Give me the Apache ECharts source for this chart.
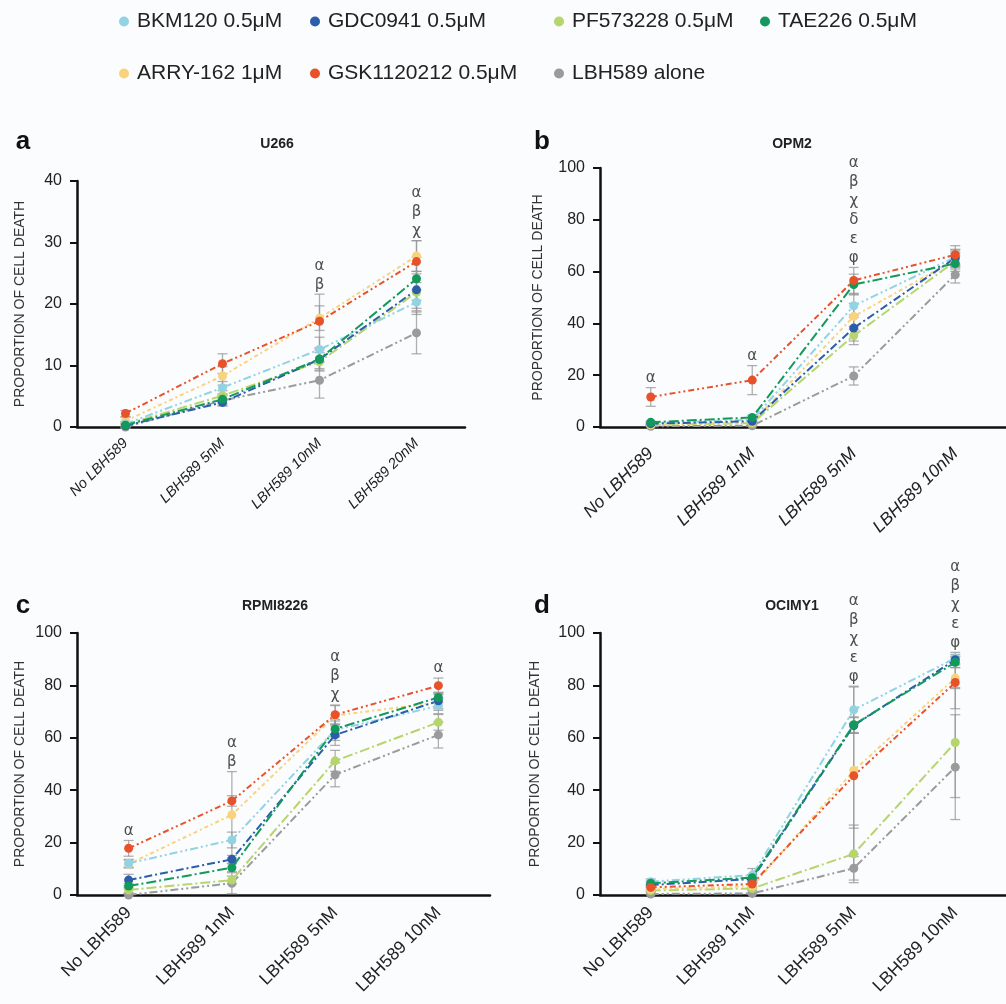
<!DOCTYPE html>
<html>
<head>
<meta charset="utf-8">
<script src="https://cdn.jsdelivr.net/npm/echarts@6/dist/echarts.min.js"></script>
<style>
html,body{margin:0;padding:0;background:#fbfcfe;}
#chart{width:1006px;height:1004px;}
</style>
</head>
<body>
<div id="chart"></div>
<script>
// ---------- DATA ----------
const TREATMENTS = ['BKM120 0.5μM','GDC0941 0.5μM','PF573228 0.5μM','TAE226 0.5μM','ARRY-162 1μM','GSK1120212 0.5μM','LBH589 alone'];
const COLORS = ['#92d3e3','#2b5dab','#b6d56c','#12995b','#f8d37c','#e8522b','#9b9b9b'];

const CATS_U266 = ['No LBH589','LBH589 5nM','LBH589 10nM','LBH589 20nM'];
const CATS_DOSE = ['No LBH589','LBH589 1nM','LBH589 5nM','LBH589 10nM'];

// values per treatment (order of TREATMENTS)
const U266_VALUES = [
  [0.5, 6.4, 12.6, 20.3],
  [0.2, 4.0, 11.0, 22.3],
  [0.4, 5.1, 10.6, 21.9],
  [0.3, 4.5, 11.05, 24.1],
  [1.0, 8.3, 17.7, 27.8],
  [2.2, 10.3, 17.2, 26.9],
  [0.0, 4.3, 7.6, 15.3]
];
const U266_ERRORS = [
  [0.4, 1.0, 2.0, 2.0],
  [0.3, 0.6, 1.5, 3.0],
  [0.4, 0.8, 1.5, 3.0],
  [0.3, 0.7, 1.8, 3.5],
  [0.6, 1.5, 2.0, 2.5],
  [0.5, 1.6, 4.4, 3.4],
  [0.2, 0.8, 2.9, 3.4]
];
const U266_MARKS = ['', '', 'α\nβ', 'α\nβ\nχ'];

const OPM2_VALUES = [
  [1.5, 2.8, 46.8, 65.6],
  [1.3, 2.2, 38.2, 65.3],
  [0.8, 1.5, 35.3, 64.0],
  [1.8, 3.7, 55.0, 63.1],
  [0.9, 1.8, 42.7, 64.6],
  [11.6, 18.1, 56.6, 66.5],
  [0.3, 0.5, 19.7, 58.8]
];
const OPM2_ERRORS = [
  [0.5, 0.8, 4.5, 3.0],
  [0.4, 0.6, 5.0, 3.0],
  [0.3, 0.5, 3.5, 3.0],
  [0.5, 0.8, 4.0, 3.0],
  [0.3, 0.5, 5.0, 3.0],
  [3.6, 5.6, 5.0, 3.5],
  [0.2, 0.3, 3.5, 3.2]
];
const OPM2_MARKS = ['α', 'α', 'α\nβ\nχ\nδ\nε\nφ', ''];

const RPMI_VALUES = [
  [12.1, 21.0, 63.0, 72.2],
  [5.7, 13.6, 61.1, 74.1],
  [1.9, 5.7, 51.2, 65.9],
  [3.4, 10.4, 63.4, 75.4],
  [11.8, 30.6, 68.5, 73.5],
  [17.8, 35.9, 68.8, 79.9],
  [0.0, 4.5, 45.9, 61.1]
];
const RPMI_ERRORS = [
  [1.5, 3.0, 4.0, 3.0],
  [2.2, 1.5, 4.0, 3.0],
  [1.0, 1.5, 4.0, 3.0],
  [1.0, 1.5, 3.0, 2.0],
  [1.5, 16.5, 4.0, 3.0],
  [3.0, 2.0, 3.5, 2.9],
  [0.5, 4.0, 4.6, 5.0]
];
const RPMI_MARKS = ['α', 'α\nβ', 'α\nβ\nχ', 'α'];

const OCIMY_VALUES = [
  [5.1, 7.6, 70.7, 90.4],
  [3.8, 6.1, 64.7, 89.8],
  [1.7, 2.5, 15.7, 58.2],
  [4.5, 6.6, 65.0, 88.8],
  [2.2, 3.4, 47.5, 82.8],
  [2.9, 4.2, 45.5, 81.1],
  [0.4, 0.6, 10.2, 48.8]
];
const OCIMY_ERRORS = [
  [1.0, 2.5, 9.0, 2.2],
  [0.8, 1.5, 3.0, 2.0],
  [0.5, 0.8, 11.0, 21.0],
  [0.8, 1.2, 3.0, 2.0],
  [0.8, 1.2, 31.9, 4.0],
  [0.8, 1.2, 20.0, 10.0],
  [0.3, 0.4, 4.5, 20.0]
];
const OCIMY_MARKS = ['', '', 'α\nβ\nχ\nε\nφ', 'α\nβ\nχ\nε\nφ'];

// ---------- LAYOUT / STYLE ----------
const FONT = 'Liberation Sans, Arial, Helvetica, sans-serif';
const DASHES = [[8,3,2,3,2,3],[8,3,2,3],[10,3,2,3],[10,3,2,3],[4,3,2,3],[6,3,2,3,2,3],[8,3,2,3,2,3]];
const DRAW_ORDER = [6,2,4,0,1,3,5];

const panels = [
  {cats: CATS_U266, vals: U266_VALUES, errs: U266_ERRORS, marks: U266_MARKS, max: 40, interval: 10,
   grid:{left:77, top:181, width:388, height:246}, nameGap:50, xFont:14.5, xMargin:14, italic:'italic',
   title:'U266', tx:272, ty:132, letter:'a', lx:18, ly:124},
  {cats: CATS_DOSE, vals: OPM2_VALUES, errs: OPM2_ERRORS, marks: OPM2_MARKS, max: 100, interval: 20,
   grid:{left:600, top:168, width:416, height:259}, nameGap:55, xFont:17.5, xMargin:24, italic:'italic',
   title:'OPM2', tx:787, ty:132, letter:'b', lx:537, ly:124},
  {cats: CATS_DOSE, vals: RPMI_VALUES, errs: RPMI_ERRORS, marks: RPMI_MARKS, max: 100, interval: 20,
   grid:{left:77, top:633, width:413, height:262}, nameGap:50, xFont:17.5, xMargin:15, italic:'normal',
   title:'RPMI8226', tx:270, ty:594, letter:'c', lx:18, ly:588},
  {cats: CATS_DOSE, vals: OCIMY_VALUES, errs: OCIMY_ERRORS, marks: OCIMY_MARKS, max: 100, interval: 20,
   grid:{left:600, top:633, width:412, height:262}, nameGap:58, xFont:17.5, xMargin:15, italic:'normal',
   title:'OCIMY1', tx:787, ty:594, letter:'d', lx:537, ly:588}
];

const grids = [], xAxes = [], yAxes = [], series = [], titles = [];

panels.forEach((p, pi) => {
  grids.push(Object.assign({containLabel:false}, p.grid));
  xAxes.push({
    type:'category', gridIndex:pi, data:p.cats, boundaryGap:true,
    axisLine:{lineStyle:{color:'#111', width:2.5}},
    axisTick:{alignWithLabel:true, length:7, lineStyle:{color:'#111', width:2}},
    axisLabel:{rotate:45, fontSize:p.xFont, color:'#222', fontFamily:FONT, fontStyle:p.italic, margin:p.xMargin, interval:0},
    splitLine:{show:false}
  });
  yAxes.push({
    type:'value', gridIndex:pi, min:0, max:p.max, interval:p.interval,
    name:'PROPORTION OF CELL DEATH', nameLocation:'middle', nameGap:p.nameGap, nameRotate:90,
    nameTextStyle:{fontSize:14, color:'#333', fontFamily:FONT},
    axisLine:{show:true, lineStyle:{color:'#111', width:2.5}},
    axisTick:{show:true, length:7, lineStyle:{color:'#111', width:2}},
    axisLabel:{fontSize:16, color:'#222', fontFamily:FONT, margin:15},
    splitLine:{show:false}
  });
  titles.push({text:p.title, left:p.tx, top:p.ty, textAlign:'center',
    textStyle:{fontSize:14, fontWeight:'bold', color:'#222', fontFamily:FONT}});
  titles.push({text:p.letter, left:p.lx, top:p.ly, textAlign:'center',
    textStyle:{fontSize:26, fontWeight:'bold', color:'#111', fontFamily:FONT}});

  // error bars
  DRAW_ORDER.forEach(t => {
    series.push({
      type:'custom', name:TREATMENTS[t], xAxisIndex:pi, yAxisIndex:pi, silent:true, z:1,
      itemStyle:{color:COLORS[t]},
      data: p.vals[t].map((v, i) => [i, v - p.errs[t][i], v + p.errs[t][i]]),
      encode:{x:0, y:[1,2]},
      renderItem:(params, api) => {
        const lo = api.coord([api.value(0), api.value(1)]);
        const hi = api.coord([api.value(0), api.value(2)]);
        const w = 5;
        const st = {stroke:'rgba(150,150,150,0.75)', lineWidth:1.3};
        return {type:'group', children:[
          {type:'line', shape:{x1:lo[0], y1:lo[1], x2:hi[0], y2:hi[1]}, style:st},
          {type:'line', shape:{x1:lo[0]-w, y1:lo[1], x2:lo[0]+w, y2:lo[1]}, style:st},
          {type:'line', shape:{x1:hi[0]-w, y1:hi[1], x2:hi[0]+w, y2:hi[1]}, style:st}
        ]};
      }
    });
  });
  // lines
  DRAW_ORDER.forEach(t => {
    series.push({
      type:'line', name:TREATMENTS[t], xAxisIndex:pi, yAxisIndex:pi, z:3,
      data:p.vals[t], symbol:'circle', symbolSize:9, showSymbol:true,
      itemStyle:{color:COLORS[t]},
      lineStyle:{color:COLORS[t], width:2, type:DASHES[t]},
      emphasis:{disabled:true}
    });
  });
  // significance annotations, placed at top of highest error bar in each category
  const tops = p.cats.map((c, i) => Math.max(...p.vals.map((v, t) => v[i] + p.errs[t][i])));
  series.push({
    type:'scatter', xAxisIndex:pi, yAxisIndex:pi, silent:true, z:5, symbolSize:0,
    data: tops.map((v, i) => ({value:[i, v], label:{show: p.marks[i] !== '', formatter: p.marks[i]}})),
    label:{position:'top', distance:0, fontSize:15, lineHeight:19, color:'#222', fontFamily:'DejaVu Sans, ' + FONT}
  });
});

// legends: one per item, arranged in two rows of columns
const LEGEND_LEFT = [114, 305, 549, 755];
const legendPos = [[0,0],[1,0],[2,0],[3,0],[0,1],[1,1],[2,1]];
const legends = TREATMENTS.map((name, i) => ({
  data:[{name:name, icon:'circle', itemStyle:{color:COLORS[i]}}],
  left:LEGEND_LEFT[legendPos[i][0]], top: legendPos[i][1] === 0 ? 6 : 58,
  itemWidth:16, itemHeight:10, selectedMode:false,
  textStyle:{fontSize:21, color:'#222', fontFamily:FONT}
}));

const chart = echarts.init(document.getElementById('chart'), null, {renderer:'canvas'});
chart.setOption({
  backgroundColor:'#fbfcfe',
  animation:false,
  color:COLORS,
  title:titles,
  legend:legends,
  grid:grids,
  xAxis:xAxes,
  yAxis:yAxes,
  series:series
});
</script>
</body>
</html>
